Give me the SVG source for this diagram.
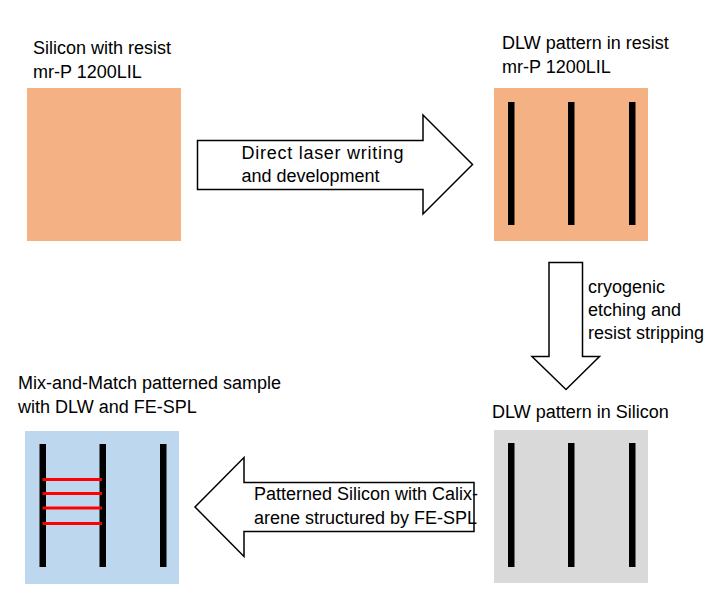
<svg xmlns="http://www.w3.org/2000/svg" width="720" height="600" viewBox="0 0 720 600">
<style>
text{font-family:"Liberation Sans",Arial,sans-serif;font-size:18px;fill:#000}
.bar{fill:#000}
.red{stroke:#FF0000;stroke-width:3;fill:none}
.arrow{fill:#fff;stroke:#000;stroke-width:1.5;stroke-linejoin:miter}
</style>
<rect width="720" height="600" fill="#fff"/>
<g id="node-silicon-resist">
<text x="33" y="54">Silicon with resist</text>
<text x="33" y="78">mr-P 1200LIL</text>
<rect x="27" y="88" width="154" height="153" fill="#F4B183"/>
</g>
<g id="node-dlw-resist">
<text x="502" y="49">DLW pattern in resist</text>
<text x="502" y="73">mr-P 1200LIL</text>
<rect x="494" y="88" width="154" height="153" fill="#F4B183"/>
<rect class="bar" x="508" y="102" width="6.5" height="123"/>
<rect class="bar" x="568" y="102" width="6.5" height="123"/>
<rect class="bar" x="629" y="102" width="6.5" height="123"/>
</g>
<g id="node-dlw-silicon">
<text x="492" y="418">DLW pattern in Silicon</text>
<rect x="494" y="430" width="154" height="153" fill="#D9D9D9"/>
<rect class="bar" x="508" y="443" width="6.5" height="124"/>
<rect class="bar" x="568" y="443" width="6.5" height="124"/>
<rect class="bar" x="629" y="443" width="6.5" height="124"/>
</g>
<g id="node-mix-match">
<text x="18" y="389">Mix-and-Match patterned sample</text>
<text x="18" y="413">with DLW and FE-SPL</text>
<rect x="25" y="431" width="154" height="153" fill="#BDD7EE"/>
<rect class="bar" x="39.5" y="444" width="6.5" height="123"/>
<rect class="bar" x="99.5" y="444" width="6.5" height="123"/>
<rect class="bar" x="160" y="444" width="6.5" height="123"/>
<line class="red" x1="42.5" y1="479.5" x2="102" y2="479.5"/>
<line class="red" x1="42.5" y1="493.5" x2="102" y2="493.5"/>
<line class="red" x1="42.5" y1="508" x2="102" y2="508"/>
<line class="red" x1="42.5" y1="523.5" x2="102" y2="523.5"/>
</g>
<g id="connectors">
<g id="arrow-dlw">
<polygon class="arrow" points="197.5,140.5 423,140.5 423,115 472.5,164.5 423,214 423,189.5 197.5,189.5"/>
<text x="241.5" y="159" textLength="162" lengthAdjust="spacing">Direct laser writing</text>
<text x="241.5" y="182">and development</text>
</g>
<g id="arrow-etch">
<polygon class="arrow" points="549,262.5 582.5,262.5 582.5,356.5 599.5,356.5 566,389.5 532,356.5 549,356.5"/>
<text x="588" y="293">cryogenic</text>
<text x="588" y="316">etching and</text>
<text x="588" y="339">resist stripping</text>
</g>
<g id="arrow-fespl">
<polygon class="arrow" points="474,482.5 244,482.5 244,457.5 195,507 244,556.5 244,531.5 474,531.5"/>
<text x="254" y="500">Patterned Silicon with Calix-</text>
<text x="254" y="524">arene structured by FE-SPL</text>
</g>
</g>
</svg>
